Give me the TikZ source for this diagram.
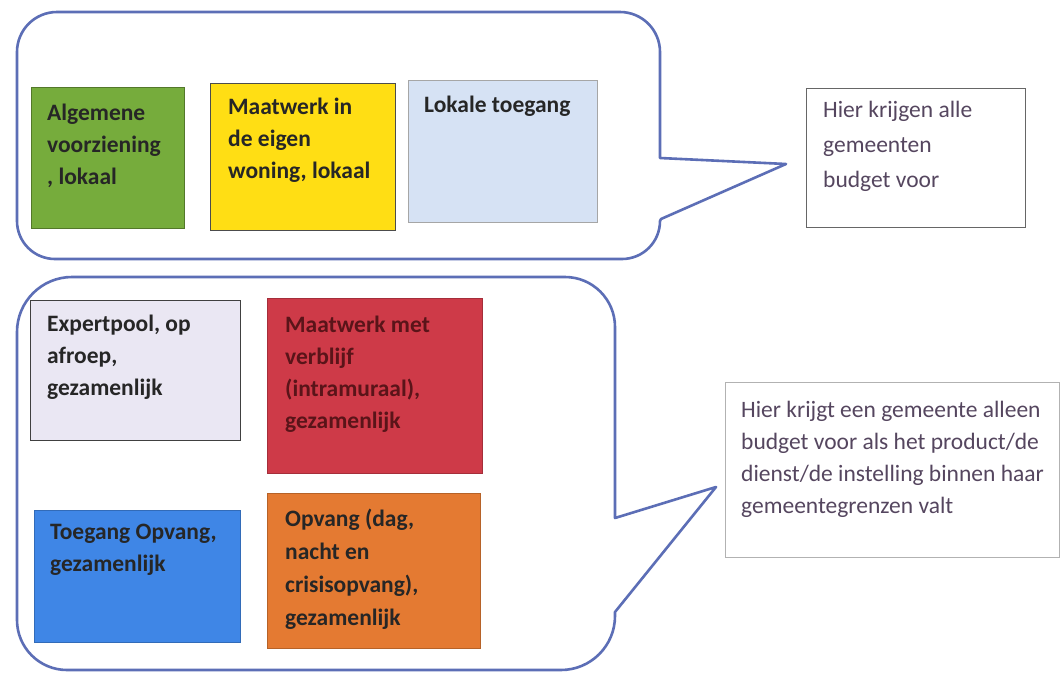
\documentclass[tikz,border=0pt]{standalone}
\usepackage{fontspec}
\setmainfont{Carlito}
\begin{document}
\begin{tikzpicture}[x=1pt,y=-1pt,
  cbox/.style={anchor=north west,inner sep=0pt,line width=1pt},
  btext/.style={anchor=north west,inner sep=0pt,align=left,font=\fontsize{23.5}{32}\selectfont\bfseries,text=black!85},
  ntext/.style={anchor=north west,inner sep=0pt,align=left,font=\fontsize{23.5}{32}\selectfont,text={rgb,255:red,85;green,70;blue,95}},
  callout/.style={draw={rgb,255:red,92;green,110;blue,182},line width=2.6pt,line join=round}]
\useasboundingbox (0,0) rectangle (1061,675);
\fill[white] (0,0) rectangle (1061,675);
\definecolor{cgreen}{RGB}{118,172,60}
\definecolor{cyellow}{RGB}{255,222,20}
\definecolor{cltblue}{RGB}{214,226,244}
\definecolor{clav}{RGB}{234,231,243}
\definecolor{cred}{RGB}{206,58,72}
\definecolor{cblue}{RGB}{63,134,230}
\definecolor{corange}{RGB}{228,122,50}
% callouts
\draw[callout] (57,12) -- (620,12) arc[start angle=-90,end angle=0,radius=40] -- (660,158) -- (786,164) -- (661,219)
  -- (660,221) arc[start angle=0,end angle=90,radius=38] -- (55,259) arc[start angle=90,end angle=180,radius=38] -- (17,52) arc[start angle=180,end angle=270,radius=40] -- cycle;
\draw[callout] (72,277) -- (565,277) arc[start angle=-90,end angle=0,radius=50] -- (615,518) -- (716,487) -- (615,612)
  -- (615,616) arc[start angle=0,end angle=90,radius=54] -- (67,670) arc[start angle=90,end angle=180,radius=50] -- (17,332) arc[start angle=180,end angle=270,radius=55] -- cycle;
% top boxes
\node[cbox,fill=cgreen,draw=cgreen!70!black,minimum width=153pt,minimum height=141pt] (b1) at (31,87) {};
\node[btext] at (47,104) {Algemene\\voorziening\\, lokaal};
\node[cbox,fill=cyellow,draw=black!70,minimum width=185pt,minimum height=147pt] (b2) at (210,83) {};
\node[btext] at (228,98) {Maatwerk in\\de eigen\\woning, lokaal};
\node[cbox,fill=cltblue,draw=black!35,minimum width=189pt,minimum height=142pt] (b3) at (408,80) {};
\node[btext] at (424,96) {Lokale toegang};
% bottom boxes
\node[cbox,fill=clav,draw=black!75,minimum width=210pt,minimum height=140pt] (b4) at (30,300) {};
\node[btext] at (47,315) {Expertpool, op\\afroep,\\gezamenlijk};
\node[cbox,fill=cred,draw=cred!80!black,minimum width=215pt,minimum height=175pt] (b5) at (267,298) {};
\node[btext,text={rgb,255:red,90;green,20;blue,25}] at (285,316) {Maatwerk met\\verblijf\\(intramuraal),\\gezamenlijk};
\node[cbox,fill=cblue,draw=cblue!80!black,minimum width=206pt,minimum height=132pt] (b6) at (34,510) {};
\node[btext] at (50,524) {Toegang Opvang,\\gezamenlijk};
\node[cbox,fill=corange,draw=corange!80!black,minimum width=213pt,minimum height=155pt] (b7) at (267,493) {};
\node[btext,font=\fontsize{23.5}{33}\selectfont\bfseries] at (285,509) {Opvang (dag,\\nacht en\\crisisopvang),\\gezamenlijk};
% right text boxes
\node[cbox,fill=white,draw=black!60,minimum width=219pt,minimum height=139pt] (r1) at (806,88) {};
\node[ntext,font=\fontsize{23.5}{35}\selectfont] at (823,101) {Hier krijgen alle\\gemeenten\\budget voor};
\node[cbox,fill=white,draw=black!30,minimum width=334pt,minimum height=175pt] (r2) at (725,382) {};
\node[ntext] at (741,401) {Hier krijgt een gemeente alleen\\budget voor als het product/de\\dienst/de instelling binnen haar\\gemeentegrenzen valt};
\end{tikzpicture}
\end{document}
